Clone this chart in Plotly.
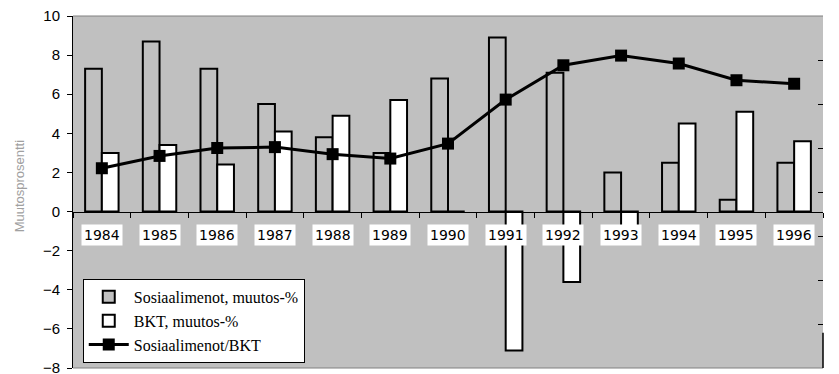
import plotly.graph_objects as go

years = ["1984", "1985", "1986", "1987", "1988", "1989", "1990",
         "1991", "1992", "1993", "1994", "1995", "1996"]
sosiaalimenot_muutos = [7.3, 8.7, 7.3, 5.5, 3.8, 3.0, 6.8, 8.9, 7.1, 2.0, 2.5, 0.6, 2.5]
bkt_muutos = [3.0, 3.4, 2.4, 4.1, 4.9, 5.7, 0.0, -7.1, -3.6, -1.2, 4.5, 5.1, 3.6]
sosiaalimenot_bkt = [22.7, 24.1, 25.0, 25.1, 24.3, 23.8, 25.5, 30.5, 34.4, 35.5, 34.6, 32.7, 32.3]

left_ticks = [-8, -6, -4, -2, 0, 2, 4, 6, 8, 10]
right_ticks = [0, 5, 10, 15, 20, 25, 30, 35, 40]
right_ticktext = ["0", "", "", "", "", "", "", "", ""]

GRAY = "#C0C0C0"

fig = go.Figure()
fig.add_trace(go.Bar(
    x=years, y=sosiaalimenot_muutos, name="Sosiaalimenot, muutos-%",
    marker=dict(color=GRAY, line=dict(color="black", width=2)),
    legendgroup="a"))
fig.add_trace(go.Bar(
    x=years, y=bkt_muutos, name="BKT, muutos-%",
    marker=dict(color="white", line=dict(color="black", width=2)),
    legendgroup="b"))
fig.add_trace(go.Scatter(
    x=years, y=sosiaalimenot_bkt, name="Sosiaalimenot/BKT", yaxis="y2",
    mode="lines+markers",
    line=dict(color="black", width=3),
    marker=dict(symbol="square", size=12, color="black"),
    legendgroup="c"))

# category labels in white boxes just below the zero line (category index positions)
for i, yr in enumerate(years):
    fig.add_annotation(x=i, y=-1.22, xref="x", yref="y", text=yr,
                       showarrow=False, bgcolor="white", borderpad=2,
                       font=dict(family="DejaVu Sans", size=14, color="black"))

# y axis title (faded)
fig.add_annotation(x=-0.072, y=0.516, xref="paper", yref="paper",
                   xanchor="center", yanchor="middle",
                   text="Muutosprosentti", textangle=-90, showarrow=False,
                   font=dict(family="Arial, Liberation Sans", size=13, color="#A0A0A0"))

zero_pos = (0 - (-8)) / (10 - (-8))

# page body has an 8px default margin, so the figure is sized/offset to fit
fig.update_layout(
    width=831, height=366,
    margin=dict(l=65, r=16, t=8, b=6, autoexpand=False),
    paper_bgcolor="white",
    plot_bgcolor=GRAY,
    barmode="group", bargap=0.42, bargroupgap=0,
    showlegend=True,
    legend=dict(x=0.013, y=0.253, xanchor="left", yanchor="top",
                bgcolor="white", bordercolor="black", borderwidth=1,
                font=dict(family="Liberation Serif", size=16, color="black"),
                tracegroupgap=0, itemwidth=40, traceorder="grouped"),
    xaxis=dict(type="category", range=[-0.5, len(years) - 0.5],
               anchor="free", position=zero_pos, automargin=False,
               showline=True, linecolor="black", linewidth=1,
               ticks="outside", tickson="boundaries", ticklen=5, tickcolor="black",
               showticklabels=False, showgrid=False, zeroline=False),
    yaxis=dict(range=[-8, 10], tickvals=left_ticks, showgrid=False, zeroline=False,
               automargin=False,
               showline=True, linecolor="black", linewidth=1,
               ticks="outside", ticklen=5, tickcolor="black",
               ticklabelstandoff=4, ticklabeloverflow="allow",
               tickfont=dict(family="Arial, Liberation Sans", size=15, color="black")),
    yaxis2=dict(range=[0, 40], tickvals=right_ticks, ticktext=right_ticktext,
                overlaying="y", side="right", showgrid=False, zeroline=False,
                automargin=False,
                showline=False, ticks="inside", ticklen=5, tickcolor="black",
                ticklabelstandoff=11, ticklabeloverflow="allow",
                tickfont=dict(family="Arial, Liberation Sans", size=15, color="black")),
    shapes=[
        dict(type="line", xref="paper", yref="paper", x0=0, x1=1, y0=1, y1=1,
             line=dict(color="#808080", width=1)),
        dict(type="line", xref="paper", yref="paper", x0=0, x1=1, y0=0, y1=0,
             line=dict(color="#808080", width=1)),
        dict(type="line", xref="paper", yref="paper", x0=1, x1=1, y0=0, y1=0.1,
             line=dict(color="black", width=1.5)),
    ],
)

fig.write_html("out.html")
